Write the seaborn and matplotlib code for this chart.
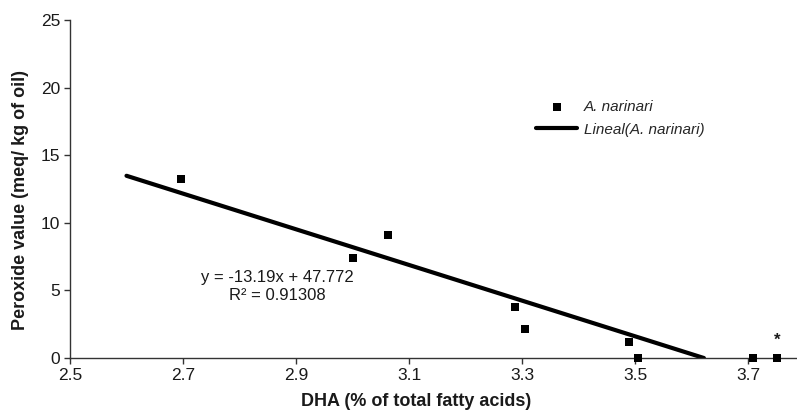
import matplotlib
matplotlib.use("Agg")
import matplotlib.pyplot as plt
import seaborn as sns
import numpy as np
import pandas as pd

# Data
dha = [2.696, 3.001, 3.063, 3.288, 3.306, 3.489, 3.505, 3.709, 3.751]
peroxide = [13.26, 7.4, 9.07, 3.8, 2.15, 1.16, 0.0, 0.0, 0.0]
slope = -13.19
intercept = 47.772
r2 = 0.91308
trend_x_range = [2.6, 3.622]
x_ticks = [2.5, 2.7, 2.9, 3.1, 3.3, 3.5, 3.7]
y_ticks = [0, 5, 10, 15, 20, 25]

sns.set_style("ticks")
plt.rcParams['font.family'] = ['Liberation Sans', 'DejaVu Sans']

fig = plt.figure(figsize=(7.97, 4.12), dpi=100)
ax = fig.add_axes([70/797, 1 - 358/412, 1 - 70/797, (358 - 20)/412])

df = pd.DataFrame({"x": dha, "y": peroxide})
tx = np.array(trend_x_range)
tdf = pd.DataFrame({"x": tx, "y": slope * tx + intercept})

sns.lineplot(data=tdf, x="x", y="y", ax=ax, color="black", linewidth=3.0,
             label="Lineal(A. narinari)", zorder=2)
sns.scatterplot(data=df, x="x", y="y", ax=ax, marker="s", s=32, color="black",
                edgecolor="black", linewidth=0, label="A. narinari", zorder=3, clip_on=False)

ax.set_xlim(2.5, 2.5 + 727/565)
ax.set_ylim(0, 25)
ax.set_xticks(x_ticks)
ax.set_yticks(y_ticks)
ax.set_xticklabels([f"{t:.1f}" for t in x_ticks])
ax.set_yticklabels([str(t) for t in y_ticks])
ax.tick_params(axis="both", labelsize=12.5, length=4, width=1, color="#333333",
               labelcolor="#1a1a1a", pad=3)
for s in ["top", "right"]:
    ax.spines[s].set_visible(False)
for s in ["left", "bottom"]:
    ax.spines[s].set_color("#333333")
    ax.spines[s].set_linewidth(1)

ax.set_xlabel("DHA (% of total fatty acids)", fontsize=13, fontweight="bold", color="#1a1a1a")
ax.set_ylabel("Peroxide value (meq/ kg of oil)", fontsize=13, fontweight="bold", color="#1a1a1a")
ax.xaxis.set_label_coords((416 - 70) / 727, (358 - 402) / 338)
ax.xaxis.label.set_va("center")
ax.yaxis.set_label_coords((21 - 70) / 727, (358 - 200) / 338)
ax.yaxis.label.set_va("center")

ax.text(2.867, 5.3, f"y = {slope}x + {intercept}\nR² = {r2}", ha="center", va="center",
        fontsize=12, color="#1a1a1a", linespacing=1.2)
ax.annotate("*", xy=(dha[-1], peroxide[-1]), xytext=(0, 13), textcoords="offset points",
            ha="center", va="center", fontsize=12, fontweight="bold", color="#1a1a1a")

handles, labels = ax.get_legend_handles_labels()
order = [labels.index("A. narinari"), labels.index("Lineal(A. narinari)")]
leg = ax.legend([handles[i] for i in order], [labels[i] for i in order],
                loc="upper left", bbox_to_anchor=(524/797, 1 - 88/412),
                bbox_transform=fig.transFigure, frameon=False,
                prop={"style": "italic", "size": 11}, handlelength=2.7, handletextpad=0.4,
                labelspacing=0.55, borderpad=0.3)

fig.savefig("out.png", dpi=100)
